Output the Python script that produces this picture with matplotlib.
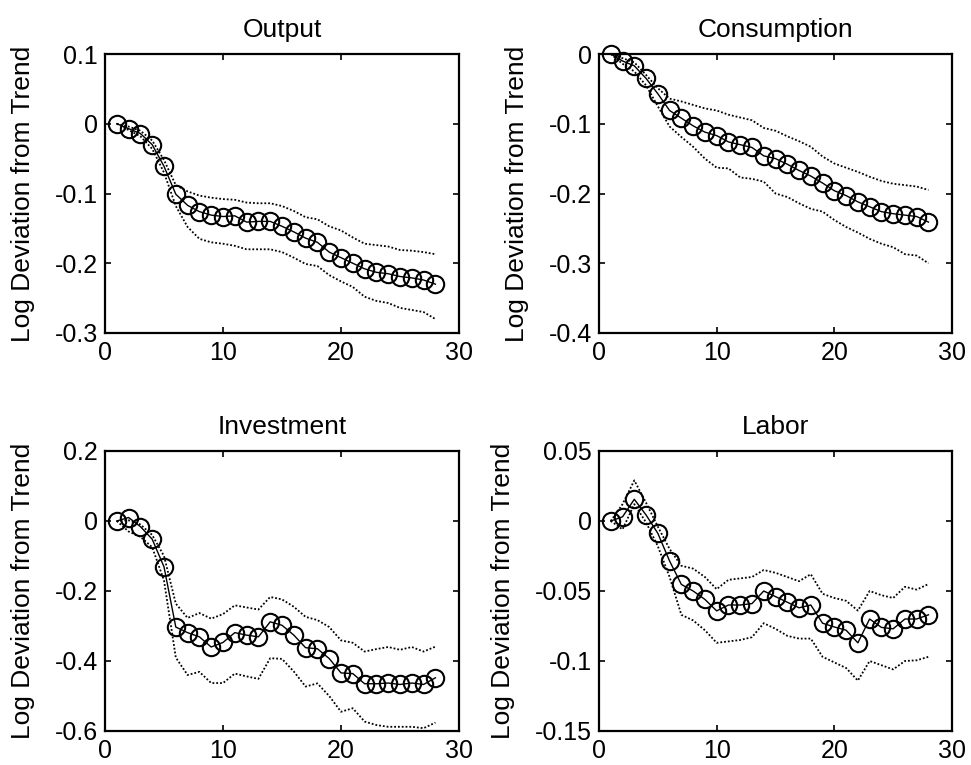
import matplotlib
matplotlib.use("Agg")
import matplotlib.pyplot as plt
import numpy as np

plt.rcParams['font.family'] = ['Liberation Sans', 'DejaVu Sans']
plt.rcParams['axes.unicode_minus'] = False

periods = list(range(1, 29))

titles = ["Output", "Consumption", "Investment", "Labor"]
ylabel = "Log Deviation from Trend"

out_mean = [0, -0.007, -0.014, -0.030, -0.061, -0.101, -0.117, -0.126, -0.131, -0.133, -0.132, -0.141, -0.140, -0.140,
            -0.147, -0.155, -0.164, -0.170, -0.184, -0.192, -0.200, -0.208, -0.213, -0.215, -0.219, -0.221, -0.224, -0.230]
out_upper = [0, -0.004, -0.010, -0.024, -0.052, -0.088, -0.097, -0.103, -0.106, -0.108, -0.109, -0.113, -0.114, -0.114,
             -0.118, -0.125, -0.134, -0.137, -0.147, -0.153, -0.163, -0.172, -0.174, -0.176, -0.181, -0.182, -0.184, -0.187]
out_lower = [0, -0.009, -0.018, -0.036, -0.070, -0.118, -0.148, -0.165, -0.170, -0.172, -0.175, -0.180, -0.180, -0.180,
             -0.184, -0.192, -0.201, -0.204, -0.217, -0.226, -0.234, -0.248, -0.254, -0.257, -0.264, -0.267, -0.270, -0.280]

con_mean = [0, -0.010, -0.017, -0.035, -0.057, -0.081, -0.092, -0.103, -0.112, -0.117, -0.126, -0.130, -0.134, -0.146,
            -0.150, -0.158, -0.167, -0.175, -0.185, -0.196, -0.203, -0.212, -0.219, -0.226, -0.229, -0.231, -0.233, -0.241]
con_upper = [0, -0.006, -0.012, -0.030, -0.049, -0.064, -0.068, -0.073, -0.078, -0.081, -0.087, -0.091, -0.095, -0.106,
             -0.110, -0.118, -0.125, -0.133, -0.147, -0.157, -0.163, -0.169, -0.176, -0.182, -0.186, -0.188, -0.190, -0.195]
con_lower = [0, -0.014, -0.025, -0.045, -0.075, -0.104, -0.119, -0.133, -0.150, -0.163, -0.164, -0.177, -0.179, -0.183,
             -0.200, -0.205, -0.214, -0.222, -0.226, -0.238, -0.248, -0.256, -0.265, -0.272, -0.277, -0.287, -0.289, -0.300]

inv_mean = [0, 0.010, -0.016, -0.052, -0.131, -0.303, -0.319, -0.331, -0.360, -0.347, -0.319, -0.326, -0.331, -0.288,
            -0.298, -0.326, -0.362, -0.365, -0.393, -0.434, -0.436, -0.465, -0.465, -0.463, -0.467, -0.463, -0.467, -0.448]
inv_upper = [0, 0.002, -0.010, -0.040, -0.100, -0.236, -0.277, -0.263, -0.279, -0.266, -0.241, -0.247, -0.253, -0.217,
             -0.224, -0.245, -0.274, -0.283, -0.303, -0.341, -0.348, -0.373, -0.366, -0.360, -0.368, -0.360, -0.373, -0.359]
inv_lower = [0, -0.030, -0.045, -0.075, -0.170, -0.390, -0.440, -0.431, -0.463, -0.463, -0.436, -0.444, -0.451, -0.392,
             -0.394, -0.430, -0.473, -0.464, -0.500, -0.545, -0.535, -0.573, -0.583, -0.588, -0.588, -0.588, -0.592, -0.576]

lab_mean = [0, 0.003, 0.0155, 0.0043, -0.0088, -0.0286, -0.0453, -0.050, -0.056, -0.0642, -0.060, -0.060, -0.059, -0.050,
            -0.054, -0.058, -0.062, -0.060, -0.073, -0.0757, -0.078, -0.087, -0.070, -0.076, -0.077, -0.070, -0.070, -0.067]
lab_upper = [0, 0.012, 0.029, 0.013, -0.004, -0.020, -0.032, -0.034, -0.040, -0.0487, -0.042, -0.041, -0.040, -0.035,
             -0.037, -0.040, -0.043, -0.038, -0.052, -0.055, -0.057, -0.064, -0.050, -0.053, -0.055, -0.047, -0.049, -0.045]
lab_lower = [0, -0.006, 0.012, -0.001, -0.018, -0.040, -0.067, -0.071, -0.078, -0.087, -0.086, -0.085, -0.083, -0.073,
             -0.077, -0.082, -0.084, -0.084, -0.097, -0.101, -0.105, -0.114, -0.100, -0.103, -0.106, -0.100, -0.0995, -0.097]

x_ticks = [0, 10, 20, 30]
x_ticklabels = ["0", "10", "20", "30"]
y_ticks = [
    [-0.3, -0.2, -0.1, 0, 0.1],
    [-0.4, -0.3, -0.2, -0.1, 0],
    [-0.6, -0.4, -0.2, 0, 0.2],
    [-0.15, -0.1, -0.05, 0, 0.05],
]
y_ticklabels = [
    ["-0.3", "-0.2", "-0.1", "0", "0.1"],
    ["-0.4", "-0.3", "-0.2", "-0.1", "0"],
    ["-0.6", "-0.4", "-0.2", "0", "0.2"],
    ["-0.15", "-0.1", "-0.05", "0", "0.05"],
]

means = [out_mean, con_mean, inv_mean, lab_mean]
uppers = [out_upper, con_upper, inv_upper, lab_upper]
lowers = [out_lower, con_lower, inv_lower, lab_lower]

W, H = 971, 765
fig = plt.figure(figsize=(W / 100, H / 100), dpi=100)

# axes pixel boxes: (left, top, right, bottom)
boxes = [(105, 54, 459, 333), (599, 54, 952, 333),
         (105, 451, 459, 731), (599, 451, 952, 731)]

fs = 18
fs_lab = 19
for i in range(4):
    l, t, r, b = boxes[i]
    ax = fig.add_axes([l / W, 1 - b / H, (r - l) / W, (b - t) / H])
    ax.plot(periods, uppers[i], color='black', linestyle=(0, (1, 1.1)), linewidth=1.3)
    ax.plot(periods, lowers[i], color='black', linestyle=(0, (1, 1.1)), linewidth=1.3)
    ax.plot(periods, means[i], color='black', linewidth=1.0, marker='o',
            markersize=12.5, markerfacecolor='none', markeredgecolor='black',
            markeredgewidth=1.5, clip_on=False)
    ax.set_xlim(0, 30)
    ax.set_ylim(y_ticks[i][0], y_ticks[i][-1])
    ax.set_xticks(x_ticks)
    ax.set_xticklabels(x_ticklabels, fontsize=fs)
    ax.set_yticks(y_ticks[i])
    ax.set_yticklabels(y_ticklabels[i], fontsize=fs)
    ax.tick_params(direction='in', top=True, right=True, length=4, width=1.2)
    ax.tick_params(axis='x', pad=6)
    ax.tick_params(axis='y', pad=5)
    for s in ax.spines.values():
        s.set_linewidth(1.6)
    ax.set_title(titles[i], fontsize=fs_lab, pad=12)
    ax.set_ylabel(ylabel, fontsize=fs_lab, labelpad=14)

fig.savefig("out.png", dpi=100)
